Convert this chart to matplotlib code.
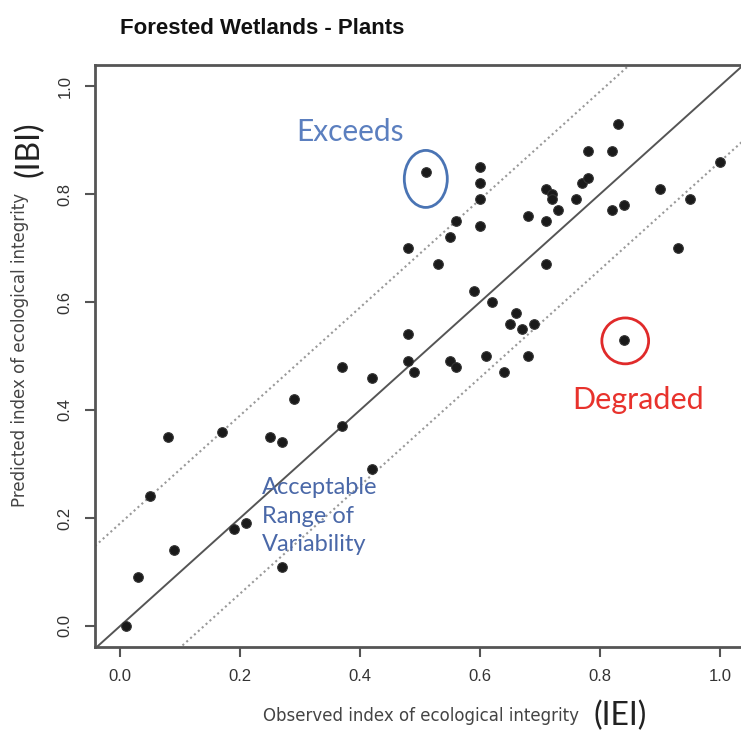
import numpy as np
import matplotlib
matplotlib.use("Agg")
import matplotlib.pyplot as plt
from matplotlib.patches import Ellipse

# ---- donnees ----
observed = [0.01, 0.03, 0.05, 0.08, 0.09, 0.17, 0.19, 0.21, 0.25, 0.27, 0.27, 0.29,
            0.37, 0.37, 0.42, 0.42, 0.48, 0.48, 0.48, 0.49, 0.51, 0.53, 0.55, 0.55,
            0.56, 0.56, 0.59, 0.60, 0.60, 0.60, 0.60, 0.61, 0.62, 0.64, 0.65, 0.66,
            0.67, 0.68, 0.68, 0.69, 0.71, 0.71, 0.71, 0.72, 0.72, 0.73, 0.76, 0.77,
            0.78, 0.78, 0.82, 0.82, 0.83, 0.84, 0.84, 0.90, 0.93, 0.95, 1.00]
predicted = [0.00, 0.09, 0.24, 0.35, 0.14, 0.36, 0.18, 0.19, 0.35, 0.11, 0.34, 0.42,
             0.37, 0.48, 0.46, 0.29, 0.70, 0.54, 0.49, 0.47, 0.84, 0.67, 0.72, 0.49,
             0.75, 0.48, 0.62, 0.85, 0.82, 0.79, 0.74, 0.50, 0.60, 0.47, 0.56, 0.58,
             0.55, 0.76, 0.50, 0.56, 0.81, 0.75, 0.67, 0.80, 0.79, 0.77, 0.79, 0.82,
             0.88, 0.83, 0.88, 0.77, 0.93, 0.78, 0.53, 0.81, 0.70, 0.79, 0.86]

ticks = [0.0, 0.2, 0.4, 0.6, 0.8, 1.0]
tick_labels = ["0.0", "0.2", "0.4", "0.6", "0.8", "1.0"]

upper_offset = 0.19   # bande superieure
lower_offset = 0.14   # bande inferieure

W, H = 741, 742
fig = plt.figure(figsize=(W / 100, H / 100), dpi=100)

def fx(px):
    return px / W

def fy(py):
    return 1 - py / H

ax = fig.add_axes([fx(95), fy(647), fx(744) - fx(95), fy(65) - fy(647)])
ax.set_xlim(-0.042, 1.04)
ax.set_ylim(-0.039, 1.039)

# lignes 1:1 et bande
xx = np.array([-0.1, 1.1])
ax.plot(xx, xx, color="#555555", lw=1.4, zorder=2)
ax.plot(xx, xx + upper_offset, color="#999999", lw=1.5, ls=(0, (1, 1.5)), zorder=2)
ax.plot(xx, xx - lower_offset, color="#999999", lw=1.5, ls=(0, (1, 1.5)), zorder=2)

ax.scatter(observed, predicted, s=48, color="#1a1a1a", edgecolor="#333333",
           linewidth=0.8, zorder=3)

# cercles
ax.add_patch(Ellipse((0.5095, 0.828), 0.0717, 0.1056, fill=False,
                     edgecolor="#4a74b4", lw=2.0, zorder=4))
ax.add_patch(Ellipse((0.842, 0.528), 0.078, 0.085, fill=False,
                     edgecolor="#e02a2a", lw=2.0, zorder=4))

ann = ["Lato", "DejaVu Sans"]
ax.text(0.3825, 0.915, "Exceeds", color="#5b7fbf", fontsize=21.5, family=ann,
        ha="center", va="center")
ax.text(0.863, 0.419, "Degraded", color="#e8322c", fontsize=22, family=ann,
        ha="center", va="center")
ax.text(0.236, 0.276, "Acceptable\nRange of\nVariability", color="#4a68a8",
        fontsize=17, family=ann, ha="left", va="top", linespacing=1.45)

# axes style R
for s in ["left", "bottom", "top"]:
    ax.spines[s].set_color("#555555")
    ax.spines[s].set_linewidth(2)
ax.spines["right"].set_visible(False)

ax.set_xticks(ticks)
ax.set_xticklabels(tick_labels)
ax.set_yticks(ticks)
ax.set_yticklabels(tick_labels, rotation=90, va="center")
ax.tick_params(axis="both", direction="out", length=7, width=1.5, color="#555555",
               labelsize=12, labelcolor="#333333", pad=9)
for lab in ax.get_xticklabels() + ax.get_yticklabels():
    lab.set_family("Liberation Sans")

# textes
fig.text(fx(120), fy(28), "Forested Wetlands - Plants", family="Liberation Sans",
         fontweight="bold", fontsize=16, ha="left", va="center", color="#111111")
fig.text(fx(20), fy(350), "Predicted index of ecological integrity", rotation=90,
         family="DejaVu Sans", fontsize=12, ha="center", va="center", color="#444444")
fig.text(fx(29), fy(149), "(IBI)", rotation=90, family=ann, fontsize=23,
         ha="center", va="center", color="#222222")
fig.text(fx(421), fy(716), "Observed index of ecological integrity",
         family="DejaVu Sans", fontsize=12, ha="center", va="center", color="#444444")
fig.text(fx(620), fy(716), "(IEI)", family=ann, fontsize=23,
         ha="center", va="center", color="#222222")

fig.savefig("out.png", dpi=100, facecolor="white")
